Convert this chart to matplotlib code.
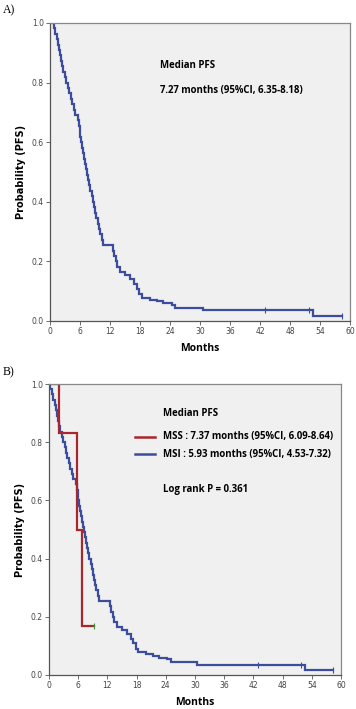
import numpy as np
import matplotlib
matplotlib.use("Agg")
import matplotlib.pyplot as plt

# ------------------------------------------
# data (step curves, steps-post)
# ------------------------------------------
all_t = [0, 0.7, 1.0, 1.3, 1.5, 1.7, 1.9, 2.1, 2.3, 2.6, 2.9, 3.2, 3.5, 3.8, 4.1,
         4.4, 4.7, 5.0, 5.6, 5.8, 5.9, 6.0, 6.1, 6.3, 6.5, 6.7, 6.9, 7.2, 7.4,
         7.6, 7.8, 8.0, 8.3, 8.6, 8.8, 9.0, 9.2, 9.5, 9.7, 10.0, 10.3, 10.6,
         12.5, 12.8, 13.1, 13.4, 14.0, 15.0, 16.0, 16.8, 17.3, 17.8, 18.3,
         20.0, 21.3, 22.5, 24.3, 25.0, 30.5, 52.5, 58.3]
all_s = [1.0, 0.982, 0.964, 0.945, 0.927, 0.909, 0.891, 0.873, 0.855, 0.836,
         0.818, 0.800, 0.782, 0.764, 0.745, 0.727, 0.709, 0.691, 0.673, 0.655,
         0.636, 0.618, 0.600, 0.582, 0.564, 0.545, 0.527, 0.509, 0.491, 0.473,
         0.455, 0.436, 0.418, 0.400, 0.382, 0.364, 0.345, 0.327, 0.309, 0.291,
         0.273, 0.255, 0.236, 0.218, 0.200, 0.182, 0.164, 0.155, 0.140, 0.125,
         0.109, 0.091, 0.078, 0.072, 0.066, 0.060, 0.054, 0.045, 0.036, 0.018,
         0.018]
all_cens_t = [43.0, 51.8, 58.3]
all_cens_s = [0.036, 0.036, 0.018]

msi_t = [0, 0.3, 0.6, 0.9, 1.2, 1.4, 1.6, 1.8, 2.0, 2.3, 2.6, 2.9, 3.2, 3.5,
         3.8, 4.1, 4.4, 4.7, 5.0, 5.6, 5.8, 5.9, 6.0, 6.1, 6.3, 6.5, 6.7, 6.9,
         7.2, 7.4, 7.6, 7.8, 8.0, 8.3, 8.6, 8.8, 9.0, 9.2, 9.5, 9.7, 10.0,
         10.3, 10.8, 12.5, 12.8, 13.1, 13.4, 14.0, 15.0, 16.0, 16.8, 17.3,
         17.8, 18.3, 20.0, 21.3, 22.5, 24.3, 25.0, 30.5, 52.5, 58.3]
msi_s = [1.0, 0.982, 0.964, 0.945, 0.927, 0.909, 0.891, 0.873, 0.855, 0.836,
         0.818, 0.800, 0.782, 0.764, 0.745, 0.727, 0.709, 0.691, 0.673, 0.655,
         0.636, 0.618, 0.600, 0.582, 0.564, 0.545, 0.527, 0.509, 0.491, 0.473,
         0.455, 0.436, 0.418, 0.400, 0.382, 0.364, 0.345, 0.327, 0.309, 0.291,
         0.273, 0.255, 0.255, 0.236, 0.218, 0.200, 0.182, 0.164, 0.155, 0.140,
         0.125, 0.109, 0.091, 0.078, 0.072, 0.066, 0.060, 0.054, 0.045, 0.036,
         0.018, 0.018]
msi_cens_t = [43.0, 51.8, 58.3]
msi_cens_s = [0.036, 0.036, 0.018]

mss_t = [0, 2.1, 5.8, 6.7, 9.3]
mss_s = [1.0, 0.833, 0.5, 0.167, 0.167]
mss_cens_t = [9.3]
mss_cens_s = [0.167]

x_ticks = np.arange(0, 61, 6)
y_ticks = [0.0, 0.2, 0.4, 0.6, 0.8, 1.0]

BLUE = "#3b4d9c"
RED = "#a8262c"
BG = "#f0f0f0"
FONT = "Open Sans"
FS = 6.9

W, H = 356, 709
fig = plt.figure(figsize=(W / 100, H / 100), dpi=100)


def px_axes(l, t, r, b):
    return fig.add_axes([l / W, 1 - b / H, (r - l) / W, (b - t) / H])


def style_axes(ax):
    ax.set_facecolor(BG)
    ax.set_xlim(0, 60)
    ax.set_ylim(0, 1.0)
    ax.set_xticks(x_ticks)
    ax.set_yticks(y_ticks)
    ax.set_xticklabels([str(v) for v in x_ticks])
    ax.set_yticklabels([f"{v:.1f}" for v in y_ticks])
    ax.tick_params(labelsize=5.5, labelcolor="#444444", length=3, width=0.6,
                   color="#555555", pad=1.5)
    for sp in ax.spines.values():
        sp.set_color("#888888")
        sp.set_linewidth(0.9)
    ax.spines["left"].set_color("#555555")
    ax.spines["bottom"].set_color("#555555")
    ax.set_ylabel("Probability (PFS)", fontsize=7, fontweight="bold",
                  family="DejaVu Sans", labelpad=4)
    ax.set_xlabel("Months", fontsize=7.5, fontweight="bold", family=FONT,
                  labelpad=5)


def km(ax, t, s, ct, cs, color, mcolor=None):
    ax.plot(t, s, drawstyle="steps-post", color=color, lw=1.6, solid_joinstyle="miter")
    ax.plot(ct, cs, linestyle="none", marker="|", ms=4, mew=0.8,
            color=mcolor or color)


# ---------------- panel A ----------------
axA = px_axes(50, 23, 350, 321)
style_axes(axA)
km(axA, all_t, all_s, all_cens_t, all_cens_s, BLUE)
axA.text(22, 0.859, "Median PFS", fontsize=FS, fontweight="bold", family=FONT,
         va="center")
axA.text(22, 0.775, "7.27 months (95%CI, 6.35-8.18)", fontsize=FS,
         fontweight="bold", family=FONT, va="center")
fig.text(3 / W, 1 - 10 / H, "A)", fontsize=8.5, family="Liberation Serif",
         va="center", ha="left")

# ---------------- panel B ----------------
axB = px_axes(49, 384, 341, 675)
style_axes(axB)
km(axB, msi_t, msi_s, msi_cens_t, msi_cens_s, BLUE)
km(axB, mss_t, mss_s, mss_cens_t, mss_cens_s, RED, mcolor="#3a9a3a")
axB.text(23.4, 0.90, "Median PFS", fontsize=FS, fontweight="bold", family=FONT,
         va="center")
axB.plot([17.7, 21.8], [0.818, 0.818], color=RED, lw=1.8)
axB.plot([17.7, 21.8], [0.759, 0.759], color=BLUE, lw=1.8)
axB.text(23.4, 0.818, "MSS : 7.37 months (95%CI, 6.09-8.64)", fontsize=FS,
         fontweight="bold", family=FONT, va="center")
axB.text(23.4, 0.759, "MSI : 5.93 months (95%CI, 4.53-7.32)", fontsize=FS,
         fontweight="bold", family=FONT, va="center")
axB.text(23.4, 0.636, "Log rank P = 0.361", fontsize=FS, fontweight="bold",
         family=FONT, va="center")
fig.text(3 / W, 1 - 372 / H, "B)", fontsize=8.5, family="Liberation Serif",
         va="center", ha="left")

fig.savefig("out.png", dpi=100)
